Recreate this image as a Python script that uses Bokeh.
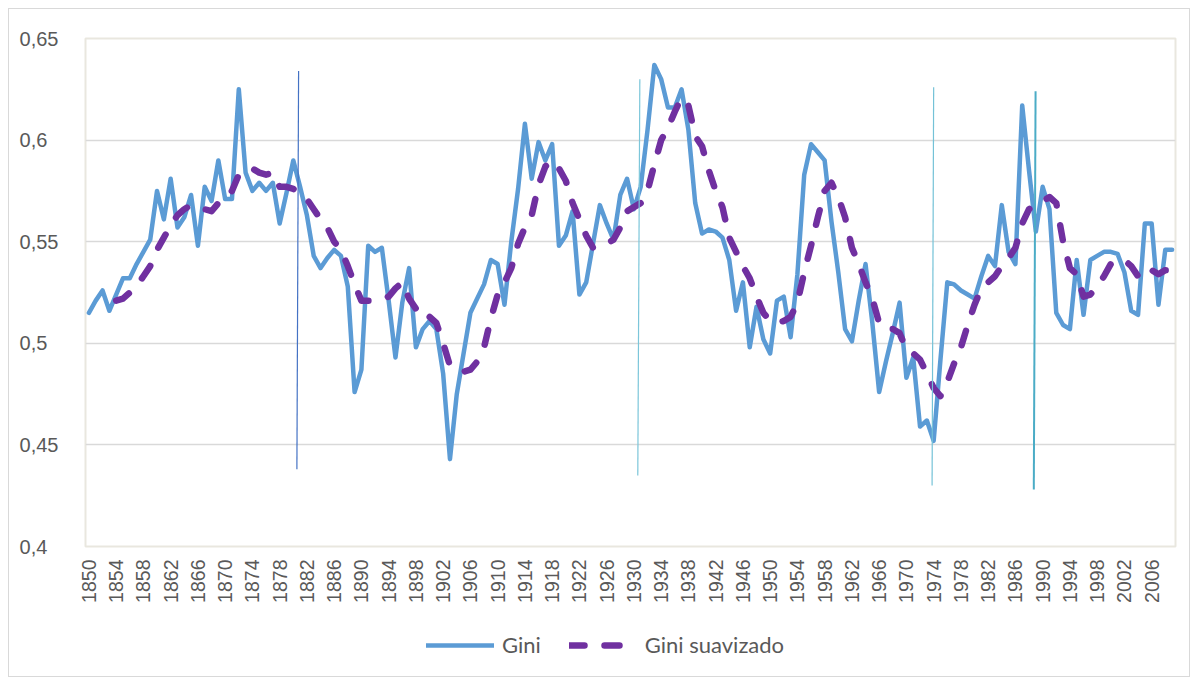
import math
from bokeh.plotting import figure
from bokeh.layouts import column
from bokeh.models import (Range1d, FixedTicker, CustomJSTickFormatter, Legend,
                          LegendItem)
from bokeh.embed import file_html
from bokeh.resources import INLINE

# ---- data ----
first_year = 1850
gini = [
    0.515, 0.521, 0.526, 0.516, 0.524, 0.532, 0.532, 0.539, 0.545, 0.551,  # 1850-59
    0.575, 0.561, 0.581, 0.557, 0.562, 0.573, 0.548, 0.577, 0.570, 0.590,  # 1860-69
    0.571, 0.571, 0.625, 0.584, 0.575, 0.579, 0.575, 0.579, 0.559, 0.574,  # 1870-79
    0.590, 0.577, 0.563, 0.543, 0.537, 0.542, 0.546, 0.543, 0.528, 0.476,  # 1880-89
    0.487, 0.548, 0.545, 0.547, 0.521, 0.493, 0.520, 0.537, 0.498, 0.507,  # 1890-99
    0.511, 0.507, 0.485, 0.443, 0.475, 0.495, 0.515, 0.522, 0.529, 0.541,  # 1900-09
    0.539, 0.519, 0.550, 0.576, 0.608, 0.581, 0.599, 0.590, 0.598, 0.548,  # 1910-19
    0.553, 0.565, 0.524, 0.530, 0.549, 0.568, 0.559, 0.551, 0.573, 0.581,  # 1920-29
    0.566, 0.577, 0.605, 0.637, 0.630, 0.616, 0.616, 0.625, 0.605, 0.569,  # 1930-39
    0.554, 0.556, 0.555, 0.552, 0.541, 0.516, 0.530, 0.498, 0.518, 0.502,  # 1940-49
    0.495, 0.521, 0.523, 0.503, 0.534, 0.583, 0.598, 0.594, 0.590, 0.560,  # 1950-59
    0.535, 0.507, 0.501, 0.521, 0.539, 0.510, 0.476, 0.491, 0.505, 0.520,  # 1960-69
    0.483, 0.493, 0.459, 0.462, 0.452, 0.492, 0.530, 0.529, 0.526, 0.524,  # 1970-79
    0.522, 0.533, 0.543, 0.538, 0.568, 0.545, 0.539, 0.617, 0.585, 0.555,  # 1980-89
    0.577, 0.566, 0.515, 0.509, 0.507, 0.541, 0.514, 0.541, 0.543, 0.545,  # 1990-99
    0.545, 0.544, 0.535, 0.516, 0.514, 0.559, 0.559, 0.519, 0.546, 0.546,  # 2000-09
]

suav_first_year = 1854
gini_suavizado = [
    0.521, 0.522, 0.525, 0.528, 0.533, 0.538,                              # 1854-59
    0.546, 0.552, 0.558, 0.563, 0.566, 0.568, 0.567, 0.566, 0.565, 0.569,  # 1860-69
    0.571, 0.575, 0.583, 0.585, 0.586, 0.584, 0.583, 0.584, 0.577, 0.577,  # 1870-79
    0.576, 0.574, 0.571, 0.566, 0.561, 0.557, 0.550, 0.546, 0.538, 0.529,  # 1880-89
    0.521, 0.521, 0.521, 0.522, 0.523, 0.527, 0.530, 0.522, 0.517, 0.512,  # 1890-99
    0.513, 0.510, 0.500, 0.489, 0.487, 0.486, 0.487, 0.491, 0.498, 0.512,  # 1900-09
    0.524, 0.530, 0.537, 0.549, 0.557, 0.563, 0.578, 0.587, 0.590, 0.586,  # 1910-19
    0.580, 0.569, 0.561, 0.553, 0.547, 0.548, 0.549, 0.551, 0.557, 0.565,  # 1920-29
    0.567, 0.569, 0.575, 0.588, 0.600, 0.606, 0.614, 0.621, 0.617, 0.602,  # 1930-39
    0.597, 0.585, 0.575, 0.567, 0.552, 0.545, 0.538, 0.532, 0.523, 0.515,  # 1940-49
    0.511, 0.510, 0.511, 0.513, 0.520, 0.535, 0.548, 0.562, 0.575, 0.579,  # 1950-59
    0.572, 0.562, 0.547, 0.539, 0.530, 0.522, 0.510, 0.507, 0.507, 0.505,  # 1960-69
    0.497, 0.495, 0.492, 0.485, 0.478, 0.474, 0.481, 0.490, 0.498, 0.509,  # 1970-79
    0.519, 0.527, 0.530, 0.533, 0.538, 0.542, 0.547, 0.559, 0.566, 0.568,  # 1980-89
    0.570, 0.572, 0.569, 0.550, 0.537, 0.534, 0.523, 0.524, 0.528, 0.533,  # 1990-99
    0.539, 0.540, 0.541, 0.538, 0.533, 0.537, 0.536, 0.534, 0.536, 0.536,  # 2000-09
]

years = list(range(first_year, first_year + len(gini)))
suav_years = list(range(suav_first_year, suav_first_year + len(gini_suavizado)))

tick_years = list(range(1850, 2007, 4))
y_ticks = [0.40, 0.45, 0.50, 0.55, 0.60, 0.65]

# thin vertical marker lines drawn on the chart (years and Gini levels of their ends)
marker_year_top = [1880.78, 1930.87, 1974.0, 1988.96]
marker_year_bottom = [1880.53, 1930.57, 1973.77, 1988.7]
marker_top = [0.634, 0.630, 0.626, 0.624]
marker_bottom = [0.438, 0.435, 0.430, 0.428]
marker_colors = ["#4472C4", "#7CC6DA", "#74C2D7", "#4BACC6"]
marker_widths = [1.2, 1.2, 1.2, 2.0]

TEXT = "#595959"
BLUE = "#5B9BD5"
PURPLE = "#7030A0"
BORDER = "1px solid #D9D9D9"

p = figure(width=1182, height=604, output_backend="svg", toolbar_location=None,
           x_range=Range1d(first_year - 0.5, first_year - 0.5 + len(gini)),
           y_range=Range1d(0.4, 0.65),
           min_border_left=76, min_border_right=16, min_border_top=29,
           min_border_bottom=67)
p.styles = {"border": BORDER, "border-bottom": "none"}
p.background_fill_color = "white"
p.border_fill_color = "white"
p.outline_line_color = "#E9E7DF"
p.outline_line_width = 2

# y axis
p.yaxis.ticker = FixedTicker(ticks=y_ticks)
p.yaxis.formatter = CustomJSTickFormatter(code="""
let s = tick.toFixed(2);
if (s.endsWith('0')) { s = s.slice(0, -1); }
s = s.replace('.', ',');
if (s.length < 4) { s = s + '\\u2007'; }
return s;
""")
p.yaxis.axis_line_color = None
p.yaxis.major_tick_line_color = None
p.yaxis.minor_tick_line_color = None
p.yaxis.major_label_standoff = 21
p.yaxis.major_label_text_font = "Liberation Sans"
p.yaxis.major_label_text_font_size = "20px"
p.yaxis.major_label_text_color = TEXT

# x axis
p.xaxis.ticker = FixedTicker(ticks=tick_years)
p.xaxis.major_label_orientation = math.pi / 2
p.xaxis.axis_line_color = None
p.xaxis.major_tick_line_color = None
p.xaxis.minor_tick_line_color = None
p.xaxis.major_label_standoff = 7
p.xaxis.major_label_text_font = "Liberation Sans"
p.xaxis.major_label_text_font_size = "19.5px"
p.xaxis.major_label_text_color = TEXT

# grid
p.xgrid.visible = False
p.ygrid.ticker = FixedTicker(ticks=y_ticks)
p.ygrid.grid_line_color = "#D9D9D9"
p.ygrid.grid_line_width = 1.5

p.line(years, gini, line_color=BLUE, line_width=4.5,
       line_join="round", line_cap="round")
p.line(suav_years, gini_suavizado, line_color=PURPLE, line_width=6.5,
       line_dash="15 20", line_join="round", line_cap="round")

p.segment(x0=marker_year_top, y0=marker_top, x1=marker_year_bottom,
          y1=marker_bottom, line_color=marker_colors, line_width=marker_widths)

# ---- legend strip below the chart ----
lg = figure(width=1182, height=65, output_backend="svg", toolbar_location=None,
            x_axis_type=None, y_axis_type=None,
            x_range=Range1d(0, 1), y_range=Range1d(0, 1),
            min_border_left=0, min_border_right=0, min_border_top=0,
            min_border_bottom=0)
lg.styles = {"border": BORDER, "border-top": "none"}
lg.outline_line_color = None
lg.background_fill_color = "white"
lg.border_fill_color = "white"
# legend keys only (placed outside the strip's visible range)
k1 = lg.line(x=[2, 3], y=[2, 2], line_color=BLUE, line_width=4.5,
             line_cap="round")
k2 = lg.line(x=[2, 3], y=[2, 2], line_color=PURPLE, line_width=6.5,
             line_dash="15 20", line_cap="round")

legend = Legend(items=[LegendItem(label="Gini", renderers=[k1]),
                       LegendItem(label="Gini suavizado", renderers=[k2])],
                orientation="horizontal", location=(341, 19))
legend.border_line_color = None
legend.background_fill_alpha = 0
legend.label_text_font = "Lato"
legend.label_text_font_size = "22px"
legend.label_text_color = TEXT
legend.glyph_width = 68
legend.glyph_height = 20
legend.label_standoff = 8
legend.spacing = 28
legend.padding = 4
legend.margin = 0
lg.add_layout(legend, "center")

layout = column(p, lg, spacing=0, styles={"margin": "8px"})

open("out.html", "w").write(file_html(layout, INLINE))
